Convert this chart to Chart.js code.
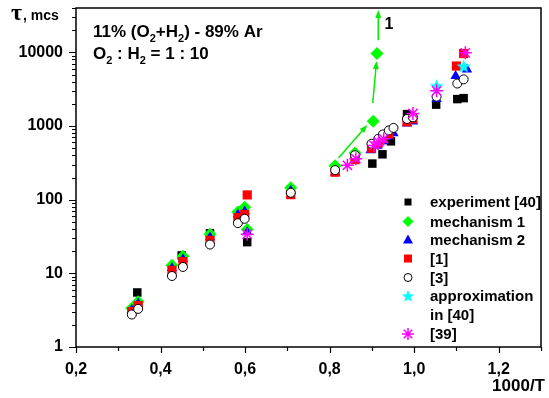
<!DOCTYPE html>
<html>
<head>
<meta charset="utf-8">
<script src="https://cdn.jsdelivr.net/npm/chart.js@4.4.0/dist/chart.umd.min.js"></script>
<style>
  html, body { margin: 0; padding: 0; background: #fff; }
</style>
</head>
<body>
<canvas id="graph" width="549" height="398"></canvas>
<script>
// values: x = 1000/T, y = tau in mcs
const expX = [0.345, 0.450, 0.517, 0.605, 0.901, 0.925, 0.945, 0.983, 1.052, 1.102, 1.117];
const expY = [5.5, 17.5, 35, 26.5, 309, 413, 620, 1450, 1950, 2320, 2390];

const mech1X = [0.332, 0.347, 0.427, 0.453, 0.517, 0.583, 0.599, 0.605, 0.708, 0.813, 0.860, 0.903, 0.912];
const mech1Y = [3.35, 4.1, 12.9, 17.1, 34, 68, 79, 39.4, 145, 288, 430, 1160, 9640];

const mech2X = [0.332, 0.347, 0.427, 0.453, 0.517, 0.583, 0.599, 0.605, 0.708, 0.813, 0.860,
                0.897, 0.913, 0.925, 0.940, 0.951, 0.983, 0.997, 1.053, 1.098, 1.125];
const mech2Y = [3.2, 3.9, 11.8, 15.6, 30.9, 63, 69, 36, 132, 232, 345,
                470, 540, 620, 720, 800, 1085, 1150, 2320, 4790, 5870];

const ref1X = [0.332, 0.347, 0.427, 0.453, 0.517, 0.583, 0.599, 0.605, 0.708, 0.813, 0.860,
               0.899, 0.915, 0.926, 0.940, 0.983, 0.997, 1.100, 1.117];
const ref1Y = [3.03, 3.64, 11.0, 14.4, 28.1, 57, 63, 116, 117, 236, 350,
               500, 590, 680, 780, 1140, 1250, 6520, 9640];

const ref3X = [0.332, 0.347, 0.427, 0.453, 0.517, 0.583, 0.599, 0.708, 0.813, 0.860,
               0.899, 0.915, 0.926, 0.940, 0.951, 0.983, 0.997, 1.053, 1.102, 1.117];
const ref3Y = [2.76, 3.29, 9.2, 12.2, 24.6, 48, 55, 124, 252, 401,
               574, 670, 768, 870, 942, 1247, 1312, 2500, 3770, 4300];

const approxX = [1.053, 1.117];
const approxY = [3500, 6500];

const ref39X = [0.605, 0.842, 0.862, 0.905, 0.916, 0.928, 0.997, 1.053, 1.121];
const ref39Y = [34, 293, 360, 545, 605, 670, 1480, 3000, 9840];

// arrows of mechanism 1: [x0, y0, x1, y1] in data units
const arrowSegs = [
  [0.821, 369, 0.889, 1035],
  [0.902, 2050, 0.911, 7620],
  [0.915, 14600, 0.915, 37700]
];

const xTicks = [0.2, 0.4, 0.6, 0.8, 1.0, 1.2];
const xMinor = [0.3, 0.5, 0.7, 0.9, 1.1, 1.3];
const yTicks = [1, 10, 100, 1000, 10000];

const FONT = '"Liberation Sans", Arial, sans-serif';

// five point star used for "approximation in [40]"
function starCanvas(r, color) {
  const c = document.createElement('canvas');
  c.width = c.height = Math.ceil(r * 2) + 2;
  const g = c.getContext('2d');
  drawStar5(g, c.width / 2, c.height / 2 + 0.5, r, color);
  return c;
}
function drawStar5(g, cx, cy, r, color) {
  g.beginPath();
  for (let i = 0; i < 10; i++) {
    const rr = i % 2 ? r * 0.42 : r;
    const a = -Math.PI / 2 + i * Math.PI / 5;
    g.lineTo(cx + rr * Math.cos(a), cy + rr * Math.sin(a));
  }
  g.closePath();
  g.fillStyle = color;
  g.fill();
}
const cyanStar = starCanvas(7.5, '#00ffff');

function pts(xs, ys) {
  return xs.map((x, i) => ({ x: x, y: ys[i] }));
}

// small marker painter for the legend
function marker(ctx, kind, x, y) {
  ctx.save();
  ctx.beginPath();
  if (kind === 'exp') {
    ctx.fillStyle = '#000';
    ctx.fillRect(x - 3.5, y - 3.5, 7, 7);
  } else if (kind === 'm1') {
    ctx.fillStyle = '#00ff00';
    ctx.moveTo(x, y - 5.5); ctx.lineTo(x + 5.5, y); ctx.lineTo(x, y + 5.5); ctx.lineTo(x - 5.5, y);
    ctx.closePath(); ctx.fill();
  } else if (kind === 'm2') {
    ctx.fillStyle = '#0000ff';
    ctx.moveTo(x, y - 5.5); ctx.lineTo(x + 5, y + 3.5); ctx.lineTo(x - 5, y + 3.5);
    ctx.closePath(); ctx.fill();
  } else if (kind === 'r1') {
    ctx.fillStyle = '#ff0000';
    ctx.fillRect(x - 4, y - 4, 8, 8);
  } else if (kind === 'r3') {
    ctx.strokeStyle = '#000'; ctx.lineWidth = 1;
    ctx.arc(x, y, 4, 0, Math.PI * 2); ctx.stroke();
  } else if (kind === 'ap') {
    drawStar5(ctx, x, y + 0.5, 6.5, '#00ffff');
  } else if (kind === 'r39') {
    ctx.strokeStyle = '#ff00ff'; ctx.lineWidth = 1.5;
    for (let i = 0; i < 4; i++) {
      const a = i * Math.PI / 4;
      ctx.moveTo(x - 6 * Math.cos(a), y - 6 * Math.sin(a));
      ctx.lineTo(x + 6 * Math.cos(a), y + 6 * Math.sin(a));
    }
    ctx.stroke();
  }
  ctx.restore();
}

function subText(ctx, parts, x, y, size, subSize) {
  parts.forEach(p => {
    if (p.sub) {
      ctx.font = 'bold ' + subSize + 'px ' + FONT;
      ctx.fillText(p.t, x, y + 5);
    } else {
      ctx.font = 'bold ' + size + 'px ' + FONT;
      ctx.fillText(p.t, x, y);
    }
    x += ctx.measureText(p.t).width;
  });
}

const decor = {
  id: 'decor',
  beforeDraw(chart) {
    const ctx = chart.ctx;
    ctx.save();
    ctx.fillStyle = '#fff';
    ctx.fillRect(0, 0, chart.width, chart.height);
    ctx.restore();
  },
  afterDatasetsDraw(chart) {
    const ctx = chart.ctx;
    const xs = chart.scales.x, ys = chart.scales.y;
    ctx.save();
    // mechanism 1 arrows
    ctx.strokeStyle = '#00ee00';
    ctx.fillStyle = '#00ee00';
    ctx.lineWidth = 1.5;
    arrowSegs.forEach(s => {
      const x0 = xs.getPixelForValue(s[0]), y0 = ys.getPixelForValue(s[1]);
      const x1 = xs.getPixelForValue(s[2]), y1 = ys.getPixelForValue(s[3]);
      const a = Math.atan2(y1 - y0, x1 - x0);
      ctx.beginPath();
      ctx.moveTo(x0, y0);
      ctx.lineTo(x1 - 5 * Math.cos(a), y1 - 5 * Math.sin(a));
      ctx.stroke();
      ctx.beginPath();
      ctx.moveTo(x1, y1);
      ctx.lineTo(x1 - 8 * Math.cos(a) + 3 * Math.sin(a), y1 - 8 * Math.sin(a) - 3 * Math.cos(a));
      ctx.lineTo(x1 - 8 * Math.cos(a) - 3 * Math.sin(a), y1 - 8 * Math.sin(a) + 3 * Math.cos(a));
      ctx.closePath();
      ctx.fill();
    });
    ctx.fillStyle = '#000';
    ctx.font = 'bold 16px ' + FONT;
    ctx.textBaseline = 'middle';
    ctx.textAlign = 'left';
    ctx.fillText('1', xs.getPixelForValue(0.93), ys.getPixelForValue(23700));
    ctx.restore();
  },
  afterDraw(chart) {
    const ctx = chart.ctx;
    const a = chart.chartArea;
    const xs = chart.scales.x, ys = chart.scales.y;
    ctx.save();
    ctx.strokeStyle = '#000';
    ctx.lineWidth = 1.5;
    ctx.strokeRect(a.left, a.top, a.right - a.left, a.bottom - a.top);

    // tick marks, pointing outwards
    ctx.beginPath();
    xTicks.forEach(v => {
      const p = Math.round(xs.getPixelForValue(v)) + 0.5;
      ctx.moveTo(p, a.bottom); ctx.lineTo(p, a.bottom + 6);
    });
    xMinor.forEach(v => {
      const p = Math.round(xs.getPixelForValue(v)) + 0.5;
      ctx.moveTo(p, a.bottom); ctx.lineTo(p, a.bottom + 4);
    });
    yTicks.forEach(v => {
      const p = Math.round(ys.getPixelForValue(v)) + 0.5;
      ctx.moveTo(a.left, p); ctx.lineTo(a.left - 7, p);
    });
    for (let d = 1; d <= 10000; d *= 10) {
      for (let k = 2; k <= 9; k++) {
        const v = k * d;
        if (v > ys.max) break;
        const p = Math.round(ys.getPixelForValue(v)) + 0.5;
        ctx.moveTo(a.left, p); ctx.lineTo(a.left - 4, p);
      }
    }
    ctx.lineWidth = 1.2;
    ctx.stroke();

    ctx.fillStyle = '#000';
    ctx.textBaseline = 'alphabetic';
    ctx.textAlign = 'left';
    // axis titles
    ctx.font = 'bold 24px "Liberation Serif", "DejaVu Serif", serif';
    ctx.fillText('\u03c4', 11, 20);
    ctx.font = 'bold 14px ' + FONT;
    ctx.fillText(', mcs', 23, 20);
    ctx.font = 'bold 17px ' + FONT;
    ctx.textAlign = 'right';
    ctx.fillText('1000/T', 545, 391);
    ctx.textAlign = 'left';

    // mixture annotation
    subText(ctx, [{ t: '11% (O' }, { t: '2', sub: true }, { t: '+H' }, { t: '2', sub: true }, { t: ') - 89% Ar' }], 93, 37, 17, 11);
    subText(ctx, [{ t: 'O' }, { t: '2', sub: true }, { t: ' : H' }, { t: '2', sub: true }, { t: ' = 1 : 10' }], 93, 59, 17, 11);

    // legend
    const rows = [
      ['exp', 'experiment [40]', 202],
      ['m1', 'mechanism 1', 221.5],
      ['m2', 'mechanism 2', 240],
      ['r1', '[1]', 258.5],
      ['r3', '[3]', 277.5],
      ['ap', 'approximation', 296],
      [null, 'in [40]', 315],
      ['r39', '[39]', 334]
    ];
    ctx.font = 'bold 15px ' + FONT;
    ctx.textBaseline = 'middle';
    rows.forEach(r => {
      if (r[0]) marker(ctx, r[0], 408, r[2]);
      ctx.fillStyle = '#000';
      ctx.fillText(r[1], 430, r[2] + 1);
    });
    ctx.restore();
  }
};

new Chart(document.getElementById('graph'), {
  type: 'scatter',
  data: {
    datasets: [
      {
        label: '[39]', data: pts(ref39X, ref39Y), order: 0,
        pointStyle: 'star', pointRadius: 6.5, borderColor: '#ff00ff', backgroundColor: '#ff00ff', borderWidth: 1.5
      },
      {
        label: 'approximation in [40]', data: pts(approxX, approxY), order: 1,
        pointStyle: cyanStar, pointRadius: 7, borderWidth: 0
      },
      {
        label: '[3]', data: pts(ref3X, ref3Y), order: 2,
        pointStyle: 'circle', pointRadius: 4.5, backgroundColor: '#fff', borderColor: '#000', borderWidth: 1
      },
      {
        label: '[1]', data: pts(ref1X, ref1Y), order: 3,
        pointStyle: 'rect', pointRadius: 6.5, backgroundColor: '#ff0000', borderColor: '#ff0000', borderWidth: 0
      },
      {
        label: 'mechanism 2', data: pts(mech2X, mech2Y), order: 4,
        pointStyle: 'triangle', pointRadius: 6, backgroundColor: '#0000ff', borderColor: '#0000ff', borderWidth: 0
      },
      {
        label: 'mechanism 1', data: pts(mech1X, mech1Y), order: 5,
        pointStyle: 'rectRot', pointRadius: 6.5, backgroundColor: '#00ff00', borderColor: '#00ff00', borderWidth: 0
      },
      {
        label: 'experiment [40]', data: pts(expX, expY), order: 6,
        pointStyle: 'rect', pointRadius: 6, backgroundColor: '#000', borderColor: '#000', borderWidth: 0
      }
    ]
  },
  options: {
    responsive: false,
    animation: false,
    devicePixelRatio: 1,
    layout: { padding: { top: 4, right: 5, left: 0, bottom: 0 } },
    plugins: {
      legend: { display: false },
      tooltip: { enabled: false }
    },
    scales: {
      x: {
        type: 'linear', min: 0.2, max: 1.3,
        afterBuildTicks: s => { s.ticks = xTicks.map(v => ({ value: v })); },
        afterFit: s => { s.height = 51; s.paddingLeft = 0; s.paddingRight = 0; },
        grid: { display: false, drawTicks: false },
        border: { display: false },
        ticks: {
          color: '#000', padding: 13, maxRotation: 0, autoSkip: false,
          font: { family: FONT, size: 16, weight: 'bold' },
          callback: v => v.toFixed(1).replace('.', ',')
        }
      },
      y: {
        type: 'logarithmic', min: 1, max: 40000,
        afterBuildTicks: s => { s.ticks = yTicks.map(v => ({ value: v })); },
        afterFit: s => { s.width = 76; s.paddingTop = 0; s.paddingBottom = 0; },
        grid: { display: false, drawTicks: false },
        border: { display: false },
        ticks: {
          color: '#000', padding: 13, autoSkip: false,
          font: { family: FONT, size: 16, weight: 'bold' },
          callback: v => String(v)
        }
      }
    }
  },
  plugins: [decor]
});
</script>
</body>
</html>
